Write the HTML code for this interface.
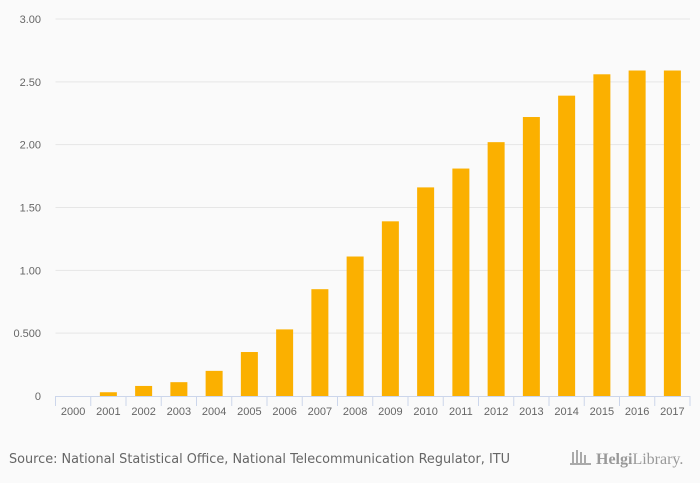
<!DOCTYPE html>
<html><head><meta charset="utf-8"><style>
body{margin:0;background:#fafafa;font-family:"Liberation Sans","DejaVu Sans",sans-serif;}
svg{display:block}
</style></head><body>
<svg width="700" height="483" id="c">
<rect width="700" height="483" fill="#fafafa"/>
<g id="grid"></g><g id="bars"></g><g id="xaxis"></g><g id="ylabels"></g>
<text x="9" y="463" font-size="13" fill="#666" font-family="DejaVu Sans,sans-serif" textLength="501" lengthAdjust="spacingAndGlyphs">Source: National Statistical Office, National Telecommunication Regulator, ITU</text>
<g>
<g fill="#aaa"><rect x="572" y="452" width="2" height="12"/><rect x="576" y="450" width="2" height="14"/><rect x="580" y="452" width="2" height="12"/><rect x="584" y="455" width="2" height="9"/><rect x="570" y="463" width="21" height="2"/></g>
<text x="596" y="464" font-size="16" fill="#999" font-family="Liberation Serif,serif"><tspan font-weight="bold">Helgi</tspan>Library.</text>
</g>
</svg>
<script>
const categories=["2000","2001","2002","2003","2004","2005","2006","2007","2008","2009","2010","2011","2012","2013","2014","2015","2016","2017"];
const values=[0,0.03,0.08,0.11,0.2,0.35,0.53,0.85,1.11,1.39,1.66,1.81,2.02,2.22,2.39,2.56,2.59,2.59];
const yTicks=[0,0.5,1,1.5,2,2.5,3];
const yTickLabels=["0","0.500","1.00","1.50","2.00","2.50","3.00"];
const NS="http://www.w3.org/2000/svg";
const x0=55.5,x1=690,y0=396,yTop=19,yMax=3;
const step=(x1-x0)/categories.length;
const y=v=>y0-(v/yMax)*(y0-yTop);
function mk(t,a,p){const e=document.createElementNS(NS,t);for(const k in a)e.setAttribute(k,a[k]);p.appendChild(e);return e;}
const grid=document.getElementById('grid'),bars=document.getElementById('bars'),xa=document.getElementById('xaxis'),yl=document.getElementById('ylabels');
yTicks.forEach((t,i)=>{
 if(t>0){const l=mk('line',{x1:x0,x2:x1,y1:y(t),y2:y(t),stroke:'#e6e6e6','stroke-width':1},grid);
 
 }
 const tx=mk('text',{x:41,y:y(t)+4,'font-size':11,fill:'#666','text-anchor':'end'},yl);tx.textContent=yTickLabels[i];
 
 
});
categories.forEach((c,i)=>{
 const cx=x0+step*(i+0.5);
 const r=mk('rect',{x:cx-8.5,y:y(values[i]),width:17,height:y0-y(values[i]),fill:'#fbb000'},bars);
 
 
 const tk=mk('line',{x1:x0+step*i,x2:x0+step*i,y1:y0,y2:y0+10,stroke:'#ccd6eb'},xa);
 
 
 const tx=mk('text',{x:cx,y:y0+19,'font-size':11,fill:'#666','text-anchor':'middle'},xa);tx.textContent=c;
 
 
});
const tk=mk('line',{x1:x1,x2:x1,y1:y0,y2:y0+10,stroke:'#ccd6eb'},xa);


const ax=mk('line',{x1:x0,x2:x1,y1:y0+0.5,y2:y0+0.5,stroke:'#ccd6eb'},xa);


</script>
</body></html>
